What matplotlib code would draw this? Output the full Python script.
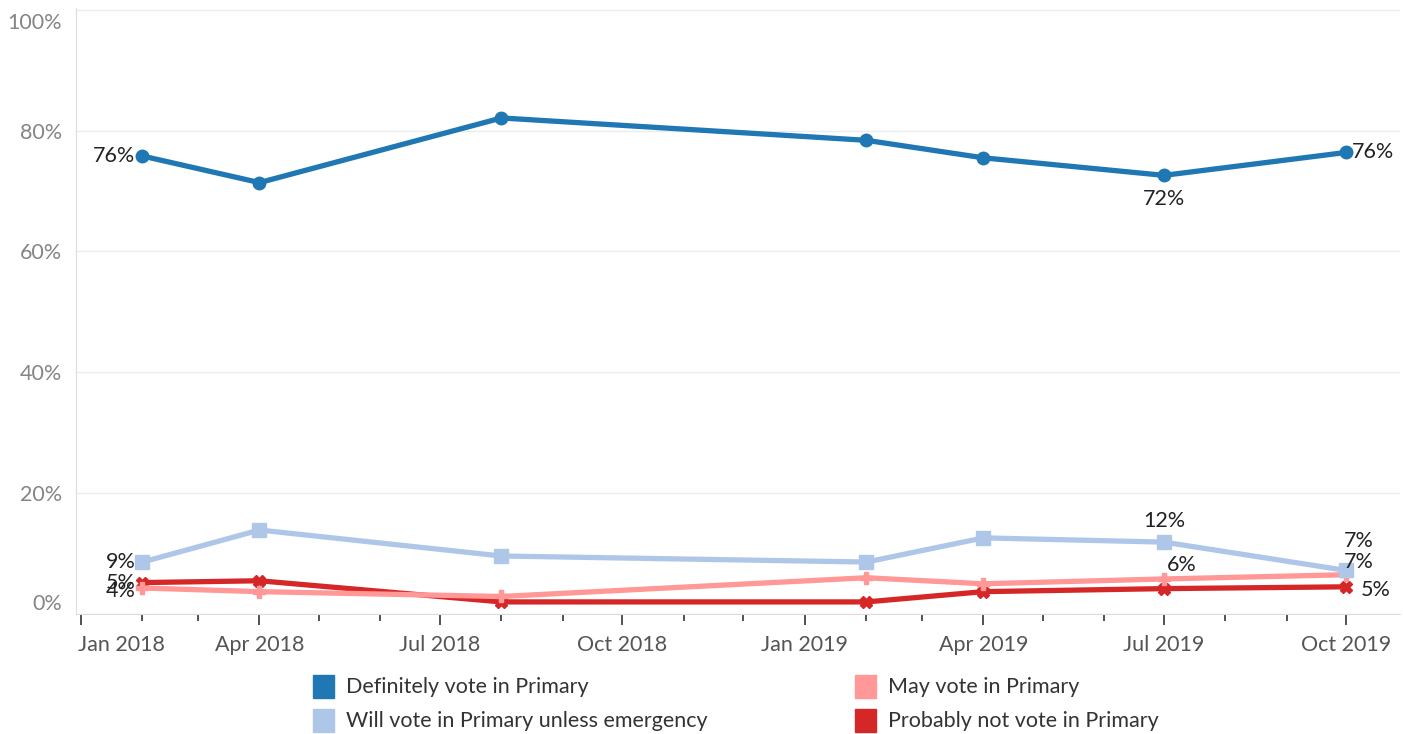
import matplotlib
matplotlib.use("Agg")
import matplotlib.pyplot as plt
import matplotlib.dates as mdates
import matplotlib.transforms as mtransforms
from matplotlib.patches import Rectangle
import datetime as dt

dates = ["2018-02-01", "2018-04-01", "2018-08-01", "2019-02-01",
         "2019-04-01", "2019-07-01", "2019-10-01"]
definitely = [75.8, 71.4, 82.1, 78.4, 75.5, 72.6, 76.4]
unless_emergency = [8.6, 13.9, 9.6, 8.6, 12.6, 11.9, 7.2]
may_vote = [4.3, 3.7, 2.9, 6.0, 5.0, 5.8, 6.5]
probably_not = [5.2, 5.5, 2.0, 2.0, 3.7, 4.2, 4.5]

series_names = ["Definitely vote in Primary", "Will vote in Primary unless emergency",
                "May vote in Primary", "Probably not vote in Primary"]
colors = ["#1f77b4", "#aec7e8", "#ff9896", "#d62728"]
yticks = [0, 20, 40, 60, 80, 100]
ytick_labels = ["0%", "20%", "40%", "60%", "80%", "100%"]
xtick_dates = ["2018-01-01", "2018-04-01", "2018-07-01", "2018-10-01",
               "2019-01-01", "2019-04-01", "2019-07-01", "2019-10-01"]
xtick_labels = ["Jan 2018", "Apr 2018", "Jul 2018", "Oct 2018",
                "Jan 2019", "Apr 2019", "Jul 2019", "Oct 2019"]

# labels: (series index, point index, text, offset x pt, offset y pt, ha, va)
point_labels = [
    (0, 0, "76%", -5, 0, "right", "center"),
    (0, 5, "72%", 0, -17, "center", "center"),
    (0, 6, "76%", 4, 0, "left", "center"),
    (1, 0, "9%", -5, 0, "right", "center"),
    (1, 5, "12%", 0, 15, "center", "center"),
    (1, 6, "7%", 9, 21, "center", "center"),
    (2, 0, "4%", -5, -2, "right", "center"),
    (2, 5, "6%", 13, 10, "center", "center"),
    (2, 6, "7%", 9, 9, "center", "center"),
    (3, 0, "5%", -5, 0, "right", "center"),
    (3, 6, "5%", 10, -2, "left", "center"),
]

to_dt = lambda d: dt.datetime.strptime(d, "%Y-%m-%d")
x = [to_dt(d) for d in dates]
FONT = "Lato"
plt.rcParams["font.family"] = [FONT, "DejaVu Sans"]

fig = plt.figure(figsize=(14.03, 7.34), dpi=100)
ax = fig.add_axes([76/1403, 1-614/734, (1400-76)/1403, (614-8)/734])

all_series = [definitely, unless_emergency, may_vote, probably_not]
markers = ["o", "s", "P", "X"]
msizes = [9, 10, 9, 9]
zorders = [5, 4, 3.5, 3]
for vals, c, m, ms, z in zip(all_series, colors, markers, msizes, zorders):
    ax.plot(x, vals, color=c, lw=3.8, marker=m, ms=ms, mec=c, mfc=c, zorder=z,
            solid_joinstyle="round")

for si, pi, txt, dx, dy, ha, va in point_labels:
    ax.annotate(txt, (x[pi], all_series[si][pi]), xytext=(dx, dy),
                textcoords="offset points", ha=ha, va=va, fontsize=15.5,
                color="#222222", zorder=10)

ax.set_ylim(0, 100.3)
ax.set_xlim(dt.datetime(2017, 12, 29, 12), dt.datetime(2019, 10, 28))
ax.set_yticks(yticks)
ax.set_yticklabels(ytick_labels)
ax.grid(axis="y", color="#ececec", lw=1)
ax.set_axisbelow(True)

ax.set_xticks([to_dt(d) for d in xtick_dates])
ax.set_xticklabels(xtick_labels)
ax.xaxis.set_minor_locator(mdates.MonthLocator())

for s in ["top", "right"]:
    ax.spines[s].set_visible(False)
ax.spines["left"].set_color("#dddddd")
ax.spines["bottom"].set_color("#dddddd")

ax.tick_params(axis="y", length=0, pad=10, labelsize=15.5, labelcolor="#858585")
ax.tick_params(axis="x", which="major", length=8, width=1.2, color="#333333",
               pad=7, labelsize=15.5, labelcolor="#555555")
ax.tick_params(axis="x", which="minor", length=5, width=1.2, color="#333333")

ylabs = ax.get_yticklabels()
ylabs[0].set_transform(ylabs[0].get_transform() +
                       mtransforms.ScaledTranslation(0, 12/100, fig.dpi_scale_trans))
ylabs[-1].set_transform(ylabs[-1].get_transform() +
                        mtransforms.ScaledTranslation(0, -11/100, fig.dpi_scale_trans))
xlabs = ax.get_xticklabels()
xlabs[0].set_ha("left")
xlabs[0].set_transform(xlabs[0].get_transform() +
                       mtransforms.ScaledTranslation(-3/100, 0, fig.dpi_scale_trans))

# legend
leg_pos = [(313, 687), (313, 721), (855, 687), (855, 721)]
for (px, py), name, c in zip(leg_pos, series_names, colors):
    fig.patches.append(Rectangle((px/1403, 1-(py+11)/734), 21/1403, 23/734,
                                 color=c, transform=fig.transFigure))
    fig.text((px+33)/1403, 1-py/734, name, fontsize=15.5, color="#333333",
             va="center", ha="left")

fig.savefig("out.png", dpi=100)
